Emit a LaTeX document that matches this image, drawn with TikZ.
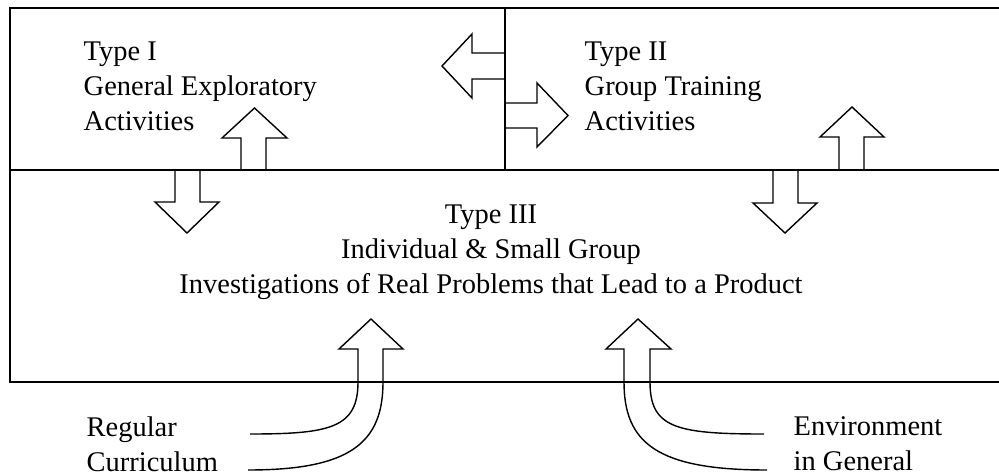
\documentclass[tikz,border=0pt]{standalone}
\usepackage{fontspec}
\setmainfont{Liberation Serif}
\usepackage{tikz}

\tikzset{
  boxline/.style={line width=0.6pt},
  blockarrow/.style={line width=0.4pt,line join=miter},
  typetext/.style={inner sep=0pt,font=\fontsize{8.1}{10}\selectfont}
}

\begin{document}
\begin{tikzpicture}
\useasboundingbox (0,0) rectangle (9.99,4.73);

\draw[boxline] (0.10,0.91) rectangle (10.05,4.65);
\draw[boxline] (0.10,3.03) -- (10.05,3.03);
\draw[boxline] (5.05,4.65) -- (5.05,3.03);

\node[typetext,anchor=north west,align=left] (typeone) at (0.83,4.32) {Type I\\General Exploratory\\Activities};
\node[typetext,anchor=north west,align=left] (typetwo) at (5.84,4.32) {Type II\\Group Training\\Activities};
\node[typetext,anchor=north,align=center] (typethree) at (4.91,2.69) {Type III\\Individual \& Small Group\\Investigations of Real Problems that Lead to a Product};
\node[typetext,anchor=north west,align=left] (regular) at (0.86,0.57) {Regular\\Curriculum};
\node[typetext,anchor=north west,align=left] (environment) at (7.93,0.57) {Environment\\in General};

\draw[blockarrow] (5.05,4.20) -- (4.72,4.20) -- (4.72,4.39) -- (4.42,4.07) -- (4.72,3.75) -- (4.72,3.94) -- (5.05,3.94);
\draw[blockarrow] (5.05,3.70) -- (5.37,3.70) -- (5.37,3.90) -- (5.68,3.575) -- (5.37,3.26) -- (5.37,3.45) -- (5.05,3.45);

\draw[blockarrow] (2.41,3.03) -- (2.41,3.35) -- (2.22,3.35) -- (2.545,3.65) -- (2.87,3.35) -- (2.66,3.35) -- (2.66,3.03);
\draw[blockarrow] (1.75,3.03) -- (1.75,2.71) -- (1.55,2.71) -- (1.87,2.40) -- (2.19,2.71) -- (2.00,2.71) -- (2.00,3.03);
\draw[blockarrow] (8.39,3.03) -- (8.39,3.36) -- (8.20,3.36) -- (8.52,3.66) -- (8.84,3.36) -- (8.64,3.36) -- (8.64,3.03);
\draw[blockarrow] (7.73,3.03) -- (7.73,2.70) -- (7.53,2.70) -- (7.85,2.40) -- (8.17,2.70) -- (7.98,2.70) -- (7.98,3.03);

\draw[blockarrow] (2.50,0.39) .. controls (3.30,0.39) and (3.58,0.45) .. (3.58,0.91) -- (3.58,1.24) -- (3.39,1.24) -- (3.71,1.54) -- (4.03,1.24) -- (3.83,1.24) -- (3.83,0.91) .. controls (3.83,0.30) and (3.50,0.03) .. (2.48,0.03);
\draw[blockarrow] (7.64,0.39) .. controls (6.76,0.39) and (6.50,0.45) .. (6.50,0.91) -- (6.50,1.24) -- (6.71,1.24) -- (6.38,1.54) -- (6.06,1.24) -- (6.24,1.24) -- (6.24,0.91) .. controls (6.24,0.30) and (6.57,0.03) .. (7.67,0.03);
\end{tikzpicture}
\end{document}
